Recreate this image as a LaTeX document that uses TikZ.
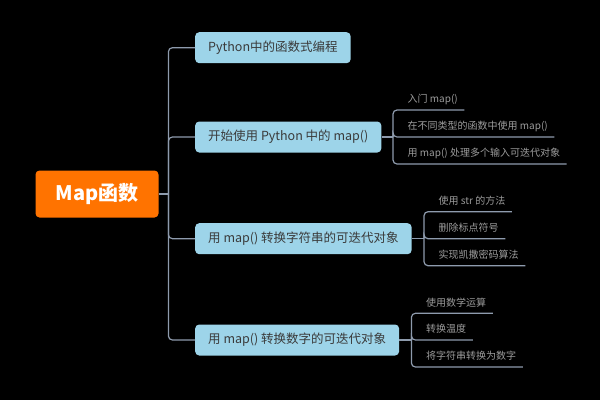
\documentclass[tikz,border=0pt]{standalone}
\usepackage{fontspec}
\setmainfont{Noto Sans CJK SC}
\usetikzlibrary{positioning}
\definecolor{mmorange}{HTML}{FF7300}
\definecolor{mmblue}{HTML}{9DD4E9}
\definecolor{mmline}{HTML}{8E9BAD}
\definecolor{mmtext}{HTML}{3A3A3A}
\definecolor{mmsub}{HTML}{9C9C9C}

\begin{document}
\begin{tikzpicture}[x=1pt, y=-1pt,
        centerbox/.style={fill=mmorange, rounded corners=4pt, minimum width=123pt, minimum height=47pt, text=white, font=\fontsize{20}{24}\selectfont\bfseries},
        topic/.style={fill=mmblue, rounded corners=4pt, anchor=west, minimum height=31pt, inner xsep=13pt, text=mmtext, font=\fontsize{12.5}{15}\selectfont},
        leaf/.style={anchor=south west, inner xsep=6.5pt, inner ysep=4.5pt, text height=8pt, text depth=2.5pt, text=mmsub, font=\fontsize{10}{12}\selectfont},
        link/.style={draw=mmline, line width=1.2pt, rounded corners=4pt}
      ]
        \fill[black] (0,0) rectangle (600,400);
        \node[centerbox] (map) at (97,194) {Map函数};
        \node[topic] (t1) at (195,47.7) {Python中的函数式编程};
        \node[topic] (t2) at (195,137) {开始使用 Python 中的 map()};
        \node[topic] (t3) at (195,238.7) {用 map() 转换字符串的可迭代对象};
        \node[topic] (t4) at (195,340) {用 map() 转换数字的可迭代对象};
        \coordinate (hub) at (168.4,194);
        \draw[link] (map.east) -- (hub);
        \foreach \t in {t1,t2,t3,t4}
          \draw[link] (hub) |- (\t.west);
        \coordinate (b2) at (393,137);
        \node[leaf] (s21) at (401,110) {入门 map()};
        \node[leaf] (s22) at (401,137) {在不同类型的函数中使用 map()};
        \node[leaf] (s23) at (401,164) {用 map() 处理多个输入可迭代对象};
        \draw[link] (t2.east) -- (b2);
        \foreach \s in {s21,s22,s23}
          \draw[link] (b2) |- (\s.south west) -- (\s.south east);
        \coordinate (b3) at (424,238.7);
        \node[leaf] (s31) at (432,211.7) {使用 str 的方法};
        \node[leaf] (s32) at (432,238.7) {删除标点符号};
        \node[leaf] (s33) at (432,265.7) {实现凯撒密码算法};
        \draw[link] (t3.east) -- (b3);
        \foreach \s in {s31,s32,s33}
          \draw[link] (b3) |- (\s.south west) -- (\s.south east);
        \coordinate (b4) at (411.4,340);
        \node[leaf] (s41) at (419.5,313.3) {使用数学运算};
        \node[leaf] (s42) at (419.5,340) {转换温度};
        \node[leaf] (s43) at (419.5,367) {将字符串转换为数字};
        \draw[link] (t4.east) -- (b4);
        \foreach \s in {s41,s42,s43}
          \draw[link] (b4) |- (\s.south west) -- (\s.south east);
      \end{tikzpicture}
\end{document}
